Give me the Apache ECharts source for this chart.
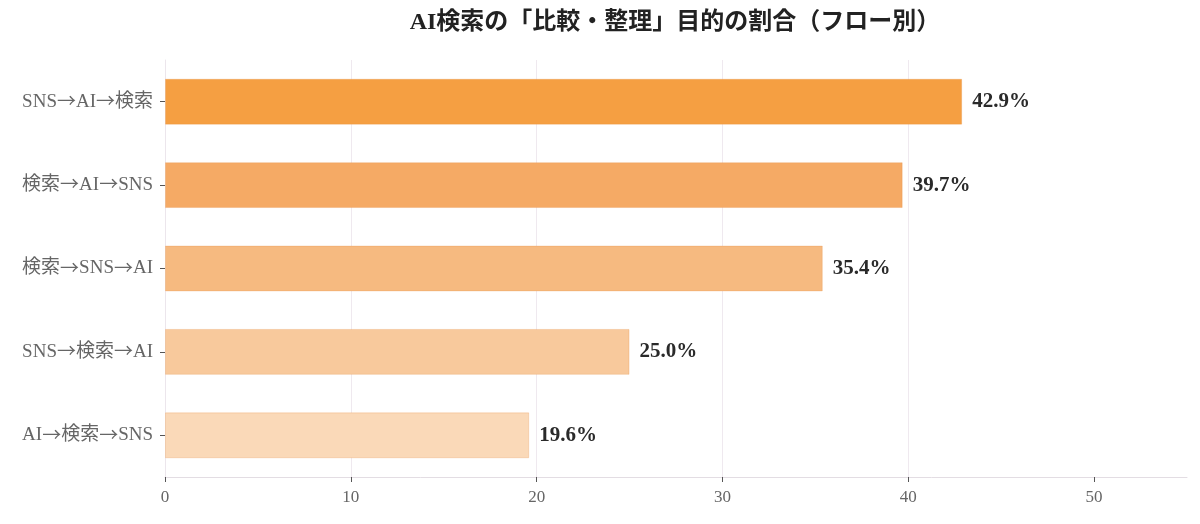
<!DOCTYPE html>
<html>
<head>
<meta charset="utf-8">
<script src="https://cdn.jsdelivr.net/npm/echarts@6/dist/echarts.min.js"></script>
<style>
html,body{margin:0;padding:0;background:#fff;}
#main{width:1200px;height:524px;}
</style>
</head>
<body>
<div id="main"></div>
<script>
// カテゴリ（上から下の順）
var flows = ['SNS→AI→検索', '検索→AI→SNS', '検索→SNS→AI', 'SNS→検索→AI', 'AI→検索→SNS'];
var ratios = [42.9, 39.7, 35.4, 25.0, 19.6];
var barColors = ['#F59F42', '#F5AA65', '#F6BA80', '#F8C99C', '#FAD9B8'];
var xTicks = [0, 10, 20, 30, 40, 50];

var app = {};
app.font = "'Liberation Serif','Noto Sans CJK JP',serif";
app.cjk = "'Noto Sans CJK JP',sans-serif";

app.chart = echarts.init(document.getElementById('main'));

var seriesData = [];
for (var i = 0; i < flows.length; i++) {
	seriesData.push({
		value: ratios[i],
		itemStyle: {color: barColors[i], borderColor: 'rgba(230,140,60,0.25)', borderWidth: 1}
	});
}

// 矢印だけ全角っぽく表示
function flowLabel(v) {
	var parts = v.split('→');
	var out = [];
	for (var k = 0; k < parts.length; k++) {
		out.push('{t|' + parts[k] + '}');
	}
	return out.join('{a|→}');
}

var option = {
	backgroundColor: '#ffffff',
	title: {
		text: 'AI検索の「比較・整理」目的の割合（フロー別）',
		left: 670,
		textAlign: 'center',
		top: 6,
		textStyle: {fontFamily: app.font, fontSize: 24, fontWeight: 'bold', color: '#222'}
	},
	grid: {left: 165, right: 13, top: 60, bottom: 47, containLabel: false},
	xAxis: {
		type: 'value',
		min: 0,
		max: 55,
		interval: 10,
		axisLine: {show: true, lineStyle: {color: '#e3dde3'}},
		axisTick: {show: true, length: 5, customValues: xTicks, lineStyle: {color: '#555'}},
		axisLabel: {
			fontFamily: app.font, fontSize: 17, color: '#666', margin: 12,
			customValues: xTicks
		},
		splitLine: {show: true, showMaxLine: false, lineStyle: {color: '#efe9ef'}}
	},
	yAxis: {
		type: 'category',
		data: flows,
		inverse: true,
		axisLine: {show: true, lineStyle: {color: '#ece6ec'}},
		axisTick: {show: true, alignWithLabel: true, length: 5, lineStyle: {color: '#555'}},
		axisLabel: {
			margin: 12,
			formatter: flowLabel,
			rich: {
				t: {fontFamily: app.font, fontSize: 19, color: '#666'},
				a: {fontFamily: app.cjk, fontSize: 19, color: '#666', padding: [0, 0, 2, 0]}
			}
		}
	},
	series: [{
		type: 'bar',
		data: seriesData,
		barCategoryGap: '45%',
		label: {
			show: true,
			position: 'right',
			distance: 10,
			fontFamily: app.font,
			fontSize: 21,
			fontWeight: 'bold',
			color: '#2a2a2a',
			formatter: function (p) { return p.value.toFixed(1) + '%'; }
		}
	}]
};

app.chart.setOption(option);
</script>
</body>
</html>
